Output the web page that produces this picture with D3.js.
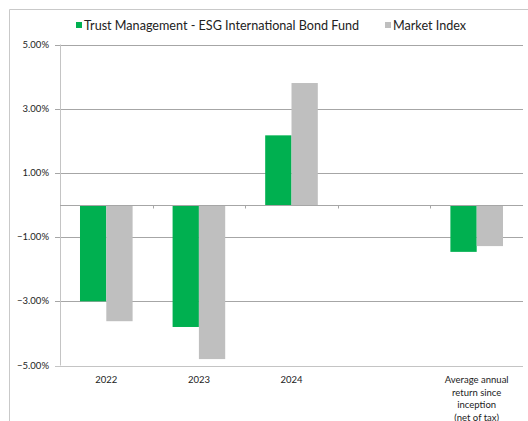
<!DOCTYPE html>
<html>
<head>
  <meta charset="utf-8">
  <title>ESG International Bond Fund</title>
  <style>
    body { margin: 0; background: #fff; }
    text { font-family: Lato, "Noto Sans", sans-serif; fill: #222; }
    .tick-label { font-size: 9.5px; }
    .legend text { font-size: 12.6px; }
  </style>
</head>
<body>
<script src="https://d3js.org/d3.v7.min.js"></script>
<script>
  var categories = ['2022', '2023', '2024', '', 'Average annual|return since|inception|(net of tax)'];
  var seriesNames = ['Trust Management - ESG International Bond Fund', 'Market Index'];
  var fundValues = [-3.00, -3.80, 2.17, null, -1.46];
  var indexValues = [-3.62, -4.80, 3.80, null, -1.28];
  var yTicks = [5, 3, 1, -1, -3, -5];
  var colors = ['#00b050', '#bfbfbf'];

  var width = 528, height = 421;
  var padding = {left: 60, right: 5, top: 44.5, bottom: 55.5};

  var svg = d3.select('body').append('svg')
    .attr('width', width)
    .attr('height', height);

  // outer frame
  svg.append('path')
    .attr('d', 'M9.5,' + height + 'V9.5H' + width)
    .attr('fill', 'none')
    .attr('stroke', '#c9c9c9');

  var xScale = d3.scaleBand()
    .domain(d3.range(categories.length))
    .range([padding.left, width - padding.right]);

  var yScale = d3.scaleLinear()
    .domain([-5, 5])
    .range([height - padding.bottom, padding.top]);

  var inner = d3.scaleBand()
    .domain([0, 1])
    .range([0, xScale.bandwidth()])
    .paddingOuter(0.76)
    .paddingInner(0);

  // gridlines
  svg.append('g').selectAll('line')
    .data(yTicks)
    .enter().append('line')
    .attr('x1', padding.left - 5)
    .attr('x2', width - padding.right)
    .attr('y1', function(d) { return Math.round(yScale(d)) + 0.5; })
    .attr('y2', function(d) { return Math.round(yScale(d)) + 0.5; })
    .attr('stroke', function(d) { return d === -5 ? '#c4c4c4' : '#a6a6a6'; });

  // y tick labels
  svg.append('g').selectAll('text')
    .data(yTicks)
    .enter().append('text')
    .attr('class', 'tick-label')
    .attr('x', 49)
    .attr('y', function(d) { return yScale(d) + 3; })
    .attr('text-anchor', 'end')
    .text(function(d) { return d3.format('.2f')(d) + '%'; });

  // bars
  [fundValues, indexValues].forEach(function(vals, s) {
    var pts = vals.map(function(v, i) { return {i: i, v: v}; })
      .filter(function(p) { return p.v !== null; });
    svg.append('g').selectAll('rect')
      .data(pts)
      .enter().append('rect')
      .attr('x', function(p) { return xScale(p.i) + inner(s); })
      .attr('width', inner.bandwidth())
      .attr('y', function(p) { return yScale(Math.max(0, p.v)); })
      .attr('height', function(p) { return Math.abs(yScale(p.v) - yScale(0)); })
      .attr('fill', colors[s]);
  });

  // left axis
  svg.append('line')
    .attr('x1', padding.left + 0.5).attr('x2', padding.left + 0.5)
    .attr('y1', yScale(5)).attr('y2', yScale(-5))
    .attr('stroke', '#c4c4c4');

  // zero axis with ticks
  var zeroY = Math.round(yScale(0)) + 0.5;
  svg.append('line')
    .attr('x1', padding.left).attr('x2', width - padding.right)
    .attr('y1', zeroY).attr('y2', zeroY)
    .attr('stroke', '#a6a6a6');
  svg.append('g').selectAll('line')
    .data(d3.range(1, categories.length))
    .enter().append('line')
    .attr('x1', function(d) { return Math.round(xScale(d)) + 0.5; })
    .attr('x2', function(d) { return Math.round(xScale(d)) + 0.5; })
    .attr('y1', zeroY).attr('y2', zeroY + 3)
    .attr('stroke', '#a6a6a6');

  // x labels
  var xl = svg.append('g').selectAll('text')
    .data(categories)
    .enter().append('text')
    .attr('class', 'tick-label')
    .attr('text-anchor', 'middle')
    .attr('x', function(d, i) { return xScale(i) + xScale.bandwidth() / 2; })
    .attr('y', 383);
  xl.each(function(d) {
    var t = d3.select(this);
    d.split('|').forEach(function(line, j) {
      t.append('tspan')
        .attr('x', t.attr('x'))
        .attr('dy', j === 0 ? 0 : 12.5)
        .text(line);
    });
  });

  // legend
  var legendX = [76, 385];
  var legend = svg.append('g').attr('class', 'legend');
  seriesNames.forEach(function(name, i) {
    legend.append('rect')
      .attr('x', legendX[i]).attr('y', 22)
      .attr('width', 6).attr('height', 6)
      .attr('fill', colors[i]);
    legend.append('text')
      .attr('x', legendX[i] + 8).attr('y', 30)
      .text(name);
  });
</script>
</body>
</html>
